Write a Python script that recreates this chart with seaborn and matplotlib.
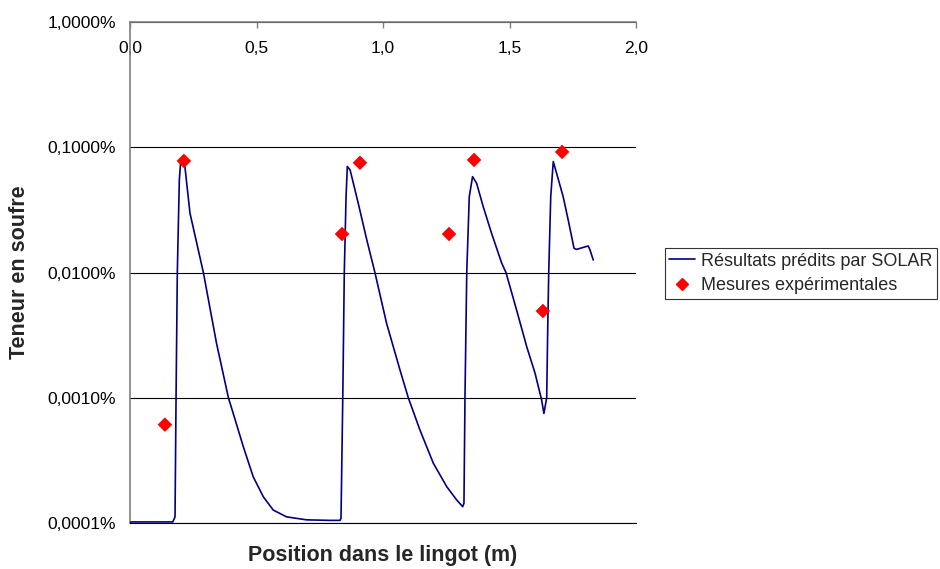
import numpy as np
import pandas as pd
import matplotlib
matplotlib.use("Agg")
import matplotlib.pyplot as plt
from matplotlib.ticker import FuncFormatter, NullLocator
from matplotlib.lines import Line2D
import seaborn as sns

# simulated curve (position in m, sulphur content in %)
solar_x = [0.0, 0.005, 0.10, 0.169, 0.178, 0.182, 0.187, 0.195, 0.200, 0.204,
           0.217, 0.237, 0.264, 0.290, 0.342, 0.389, 0.408, 0.448, 0.487, 0.527,
           0.566, 0.619, 0.698, 0.791, 0.830, 0.834, 0.841, 0.847, 0.854, 0.859,
           0.870, 0.902, 0.936, 0.968, 1.014, 1.067, 1.100, 1.146, 1.199, 1.252,
           1.291, 1.315, 1.320, 1.324, 1.331, 1.341, 1.354, 1.370, 1.396, 1.429,
           1.469, 1.486, 1.528, 1.568, 1.601, 1.627, 1.636, 1.647, 1.651, 1.655,
           1.663, 1.673, 1.686, 1.712, 1.732, 1.755, 1.765, 1.811, 1.818, 1.831]
solar_y = [0.000100, 0.000102, 0.000102, 0.000102, 0.000112, 0.00100, 0.0100, 0.0550, 0.0746, 0.0769,
           0.0702, 0.0298, 0.0171, 0.0100, 0.00272, 0.00100, 0.00075, 0.000406, 0.000234, 0.000162,
           0.000127, 0.000112, 0.000106, 0.000105, 0.000105, 0.000109, 0.00100, 0.0100, 0.0404, 0.0702,
           0.0659, 0.0358, 0.0182, 0.0100, 0.00394, 0.00167, 0.00100, 0.000553, 0.000300, 0.000195,
           0.000153, 0.000135, 0.000144, 0.00100, 0.0100, 0.0404, 0.0583, 0.0516, 0.0336, 0.0206,
           0.0119, 0.0100, 0.00502, 0.00256, 0.00157, 0.00096, 0.00075, 0.00100, 0.00348, 0.0100,
           0.0404, 0.0769, 0.0621, 0.0404, 0.0263, 0.0156, 0.0153, 0.0163, 0.0152, 0.0126]

# measurements
mes_x = [0.138, 0.213, 0.838, 0.909, 1.261, 1.360, 1.632, 1.708]
mes_y = [0.00061, 0.0778, 0.0203, 0.0752, 0.0203, 0.0792, 0.00493, 0.0918]

x_ticks = [0.0, 0.5, 1.0, 1.5, 2.0]
y_ticks = [0.0001, 0.001, 0.01, 0.1, 1.0]

solar = pd.DataFrame({"x": solar_x, "y": solar_y})
mes = pd.DataFrame({"x": mes_x, "y": mes_y})

sns.set_style("white")
plt.rcParams["font.family"] = ["Liberation Sans", "DejaVu Sans"]

fig = plt.figure(figsize=(9.4, 5.69), dpi=100)
ax = fig.add_axes([0.1383, 0.0808, 0.5383, 0.8805])

sns.lineplot(data=solar, x="x", y="y", sort=False, estimator=None,
             color="#000080", lw=1.2, ax=ax, zorder=3)
sns.scatterplot(data=mes, x="x", y="y", marker="D", s=55, color="#ff0000",
                edgecolor="none", ax=ax, zorder=4)

ax.set_yscale("log")
ax.set_ylim(1e-4, 1.0)
ax.set_xlim(0, 2.0)
ax.set_yticks(y_ticks)
ax.yaxis.set_minor_locator(NullLocator())
ax.yaxis.set_major_formatter(FuncFormatter(lambda v, p: f"{v:.4f}%".replace(".", ",")))
ax.set_xticks(x_ticks)
ax.set_xticklabels([f"{v:.1f}".replace(".", ",") for v in x_ticks])

ax.xaxis.tick_top()
ax.tick_params(axis="x", direction="in", length=4, width=1, color="#808080",
               pad=-24.5, labelsize=12.5, labelcolor="black")
ax.tick_params(axis="y", direction="out", length=5, width=1, color="#808080",
               pad=5, labelsize=12.5, labelcolor="black")

ax.yaxis.grid(True, color="black", lw=0.8)
ax.xaxis.grid(False)
for s in ["top", "left"]:
    ax.spines[s].set_color("#808080")
    ax.spines[s].set_linewidth(1.2)
ax.spines["bottom"].set_color("black")
ax.spines["bottom"].set_linewidth(0.8)
ax.spines["right"].set_visible(False)

ax.set_xlabel("Position dans le lingot (m)", fontsize=15.5, fontweight="bold")
ax.set_ylabel("Teneur en soufre", fontsize=15.5, fontweight="bold")
ax.xaxis.set_label_position("bottom")
ax.xaxis.set_label_coords(0.5, -0.043)
ax.yaxis.set_label_coords(-0.198, 0.5)

handles = [Line2D([], [], color="#000080", lw=1.2),
           Line2D([], [], marker="D", color="#ff0000", ls="none", markersize=6)]
leg = fig.legend(handles, ["Résultats prédits par SOLAR", "Mesures expérimentales"],
                 loc="upper left", bbox_to_anchor=(0.707, 0.564), frameon=True,
                 fancybox=False, fontsize=13, handlelength=1.45, handletextpad=0.3,
                 borderpad=0.25, labelspacing=0.42, borderaxespad=0)
leg.get_frame().set_edgecolor("black")
leg.get_frame().set_linewidth(0.8)

fig.savefig("out.png", dpi=100)
